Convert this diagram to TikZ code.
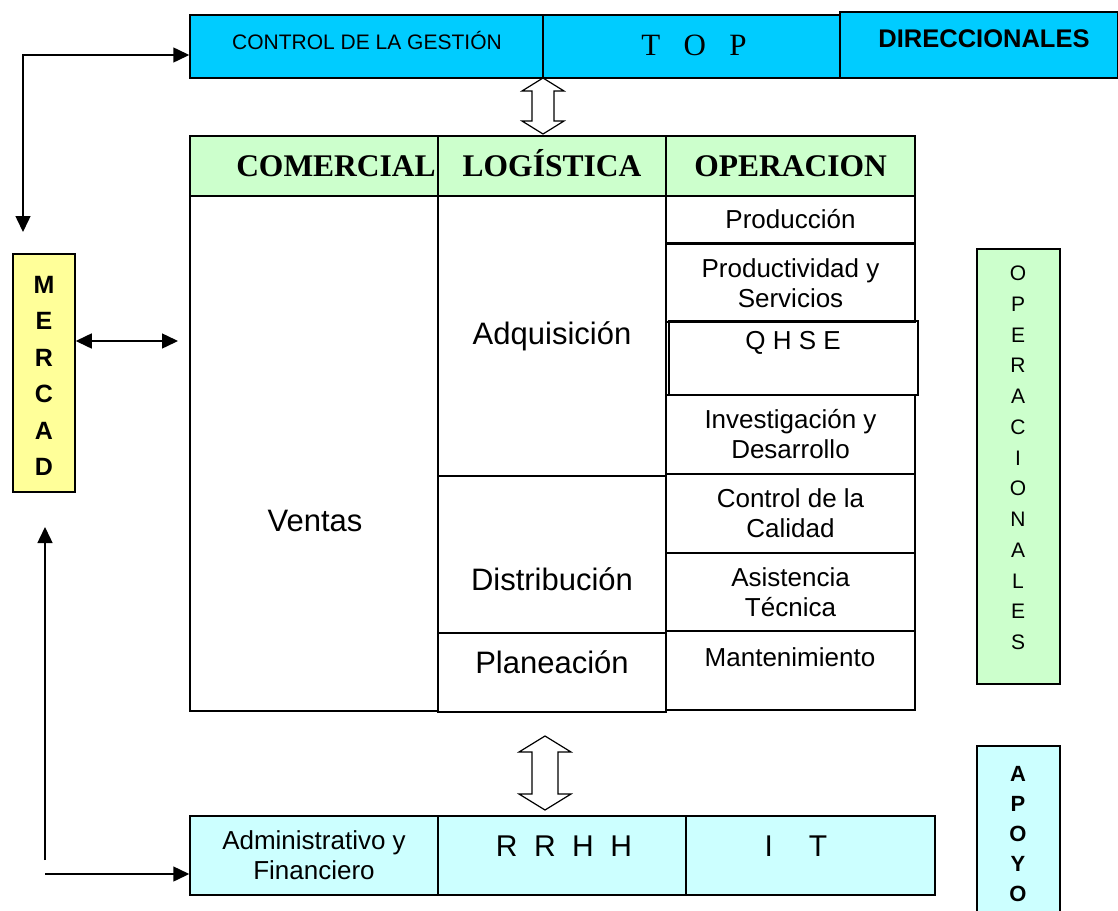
\documentclass[tikz,border=0pt]{standalone}
\usepackage{fontspec}
\setmainfont{Liberation Sans}
\newfontfamily\tnr{Liberation Serif}
\usetikzlibrary{arrows.meta}
\definecolor{cyanA}{HTML}{00CCFF}
\definecolor{greenA}{HTML}{CCFFCC}
\definecolor{cyanB}{HTML}{CCFFFF}
\definecolor{yellowA}{HTML}{FFFF99}
\tikzset{
  box/.style={draw=black, line width=1.5pt, rectangle, inner sep=0pt, align=center},
  txt/.style={inner sep=0pt, align=center, font=\fontsize{26}{30}\selectfont},
  big/.style={inner sep=0pt, align=center, font=\fontsize{31}{36}\selectfont},
  hdr/.style={inner sep=0pt, anchor=base, font=\tnr\bfseries\fontsize{31.5}{36}\selectfont},
  conn/.style={line width=1.5pt, {Triangle[length=16pt,width=15pt]}-{Triangle[length=16pt,width=15pt]}},
  conn1/.style={line width=1.5pt, -{Triangle[length=16pt,width=15pt]}},
  hollow/.style={draw=black, fill=white, line width=1.2pt, line join=miter}
}
\begin{document}
\begin{tikzpicture}[x=1pt,y=-1pt]
\clip (0,0) rectangle (1118,910);
\useasboundingbox (0,0) rectangle (1118,910);
% top band
\node[box, fill=cyanA, minimum width=353, minimum height=63] (ctrl) at (366.5,46.5) {};
\node[box, fill=cyanA, minimum width=297, minimum height=63] (top) at (691.5,46.5) {};
\node[box, fill=cyanA, minimum width=278, minimum height=66] (dir) at (979,45) {};
\node[inner sep=0pt, font=\fontsize{21}{24}\selectfont] (ctrlt) at (367,40) {CONTROL DE LA GESTIÓN};
\node[inner sep=0pt, font=\tnr\fontsize{31}{36}\selectfont] (topt) at (694,45) {T\hspace{0.75em}O\hspace{0.75em}P};
\node[inner sep=0pt, font=\bfseries\fontsize{25.5}{30}\selectfont] (dirt) at (984,39) {DIRECCIONALES};
% header
\node[box, fill=greenA, minimum width=248, minimum height=60] (com) at (314,166) {};
\node[box, fill=greenA, minimum width=228, minimum height=60] (log) at (552,166) {};
\node[box, fill=greenA, minimum width=249, minimum height=60] (ope) at (790.5,166) {};
\node[hdr] (comt) at (336,176.5) {COMERCIAL};
\node[hdr] (logt) at (552,176.5) {LOGÍSTICA};
\node[hdr] (opet) at (790.5,176.5) {OPERACION};
% comercial
\node[box, minimum width=248, minimum height=515] (ven) at (314,453.5) {};
\node[big] (vent) at (315,521) {Ventas};
% logistica
\node[box, minimum width=228, minimum height=280, font=\fontsize{31}{36}\selectfont] (adq) at (552,336) {Adquisición};
\node[box, minimum width=228, minimum height=157] (dis) at (552,554.5) {};
\node[big] (dist) at (552,579) {Distribución};
\node[box, minimum width=228, minimum height=79] (pla) at (552,672.5) {};
\node[big] (plat) at (552,662) {Planeación};
% operacion
\node[box, minimum width=249, minimum height=47, font=\fontsize{26}{30}\selectfont] (pro) at (790.5,219.5) {Producción};
\node[box, minimum width=249, minimum height=78, font=\fontsize{26}{30}\selectfont] (prd) at (790.5,283) {Productividad y\\Servicios};
\node[box, minimum width=249, minimum height=74] (qhs) at (793.5,358) {};
\node[txt] (qhst) at (793,343) {Q H S E};
\node[box, minimum width=249, minimum height=79, font=\fontsize{26}{30}\selectfont] (inv) at (790.5,434.5) {Investigación y\\Desarrollo};
\node[box, minimum width=249, minimum height=79, font=\fontsize{26}{30}\selectfont] (cal) at (790.5,513.5) {Control de la\\Calidad};
\node[box, minimum width=249, minimum height=78, font=\fontsize{26}{30}\selectfont] (asi) at (790.5,592) {Asistencia\\Técnica};
\node[box, minimum width=249, minimum height=79] (man) at (790.5,670.5) {};
\node[txt] (mant) at (790,657) {Mantenimiento};
% bottom band
\node[box, fill=cyanB, minimum width=248, minimum height=79, font=\fontsize{26}{30}\selectfont] (adm) at (314,855.5) {Administrativo y\\Financiero};
\node[box, fill=cyanB, minimum width=248, minimum height=79] (rrh) at (562,855.5) {};
\node[box, fill=cyanB, minimum width=249, minimum height=79] (it) at (810.5,855.5) {};
\node[inner sep=0pt, font=\fontsize{30}{34}\selectfont] (rrht) at (564,846) {R\hspace{0.55em}R\hspace{0.55em}H\hspace{0.55em}H};
\node[inner sep=0pt, font=\fontsize{30}{34}\selectfont] (itt) at (796,846) {I\hspace{1.2em}T};
% side boxes
\node[box, fill=yellowA, minimum width=62, minimum height=238] (mer) at (44,373) {};
\node[inner sep=0pt, align=center, font=\bfseries\fontsize{25}{36.5}\selectfont] (mert) at (44,376) {M\\E\\R\\C\\A\\D};
\node[box, fill=greenA, minimum width=83, minimum height=435] (opl) at (1018.5,466.5) {};
\node[inner sep=0pt, align=center, font=\fontsize{21}{30.75}\selectfont] (oplt) at (1018,458) {O\\P\\E\\R\\A\\C\\I\\O\\N\\A\\L\\E\\S};
\node[box, fill=cyanB, minimum width=83, minimum height=174] (apo) at (1018.5,833) {};
\node[inner sep=0pt, align=center, font=\bfseries\fontsize{22}{30}\selectfont] (apot) at (1018,834) {A\\P\\O\\Y\\O};
% hollow double arrows
\draw[hollow] (543,78) -- (564,91) -- (554,91) -- (554,121) -- (564,121) -- (543,134)
  -- (522,121) -- (532,121) -- (532,91) -- (522,91) -- cycle;
\draw[hollow] (545,736) -- (571,752) -- (558,752) -- (558,794) -- (571,794) -- (545,810)
  -- (519,794) -- (532,794) -- (532,752) -- (519,752) -- cycle;
% connectors
\coordinate (c1) at (23,232);
\coordinate (c2) at (23,55);
\draw[conn] (c1) -- (c2) -- (ctrl.west |- c2);
\coordinate (m1) at (178,341);
\draw[conn] (mer.east |- m1) -- (m1);
\coordinate (b1) at (45,860);
\coordinate (b2) at (45,527);
\draw[conn1] (b1) -- (b2);
\coordinate (b3) at (45,874);
\draw[conn1] (b3) -- (adm.west |- b3);
\end{tikzpicture}
\end{document}
